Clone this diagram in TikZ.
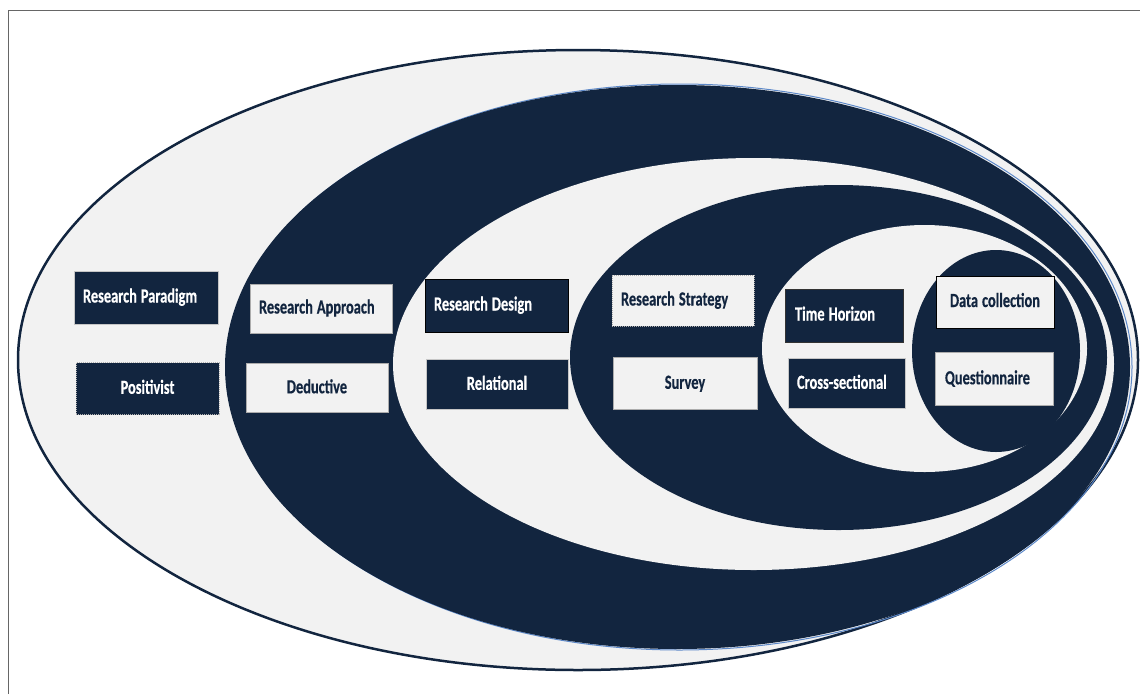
\documentclass[tikz,border=0pt]{standalone}
\usepackage{fontspec}
\newfontfamily\cardfont{Carlito}[FakeStretch=0.72, FakeBold=0.4]
\newcommand\cardtype{\cardfont\bfseries\fontsize{20}{23}\selectfont\spaceskip=4pt plus 1pt minus 1pt\relax}
\usetikzlibrary{positioning}
\definecolor{navy}{RGB}{18,37,63}
\definecolor{paper}{RGB}{242,242,242}
\definecolor{glow}{RGB}{92,136,200}
\tikzset{
  basic/.style     = {rectangle, inner xsep=9pt, inner ysep=0pt, line width=0.8pt,
                      font=\cardtype, text height=13pt, text depth=3pt, align=flush left},
  dark box/.style  = {basic, fill=navy, draw=gray!45, text=white},
  light box/.style = {basic, fill=paper, draw=gray!65, text=navy},
  dotted edge/.style = {dash pattern=on 1pt off 1pt},
  ring/.style      = {line width=2.5pt, draw=navy}
}

\begin{document}
\begin{tikzpicture}[x=1pt, y=-1pt]
	\useasboundingbox (0,0) rectangle (1140,694);
	
	% page frame, only left and top edges visible
	\draw[gray!80!black, line width=1pt] (8,694) -- (8,10) -- (1140,10);
	
	% nested layers, outermost first
	\fill[paper] (578,360) ellipse [x radius=560, y radius=310];
	\draw[ring] (578,360) ellipse [x radius=560, y radius=310];
	\draw[glow, line width=1pt] (679.5,367) ellipse [x radius=452.5, y radius=283];
	\fill[navy]  (677.5,367) ellipse [x radius=452.5, y radius=282];
	\fill[paper] (753.5,364) ellipse [x radius=360.5, y radius=206];
	\fill[navy]  (838.5,357.5) ellipse [x radius=268.5, y radius=172.5];
	\fill[paper] (924.5,348.5) ellipse [x radius=162.5, y radius=123.5];
	\fill[navy]  (996,351) ellipse [x radius=84, y radius=101];
	
	% headings of each layer
	\node[dark box, text width=126pt, minimum height=53pt] (paradigm) at (146,297.5) {Research Paradigm};
	\node[light box, text width=124pt, minimum height=49pt] (approach) at (321,308.5) {Research Approach};
	\node[dark box, draw=black, text width=125pt, minimum height=53pt] (design) at (496.5,305.5) {Research Design};
	\node[light box, dotted edge, text width=124pt, minimum height=51pt] (strategy) at (683,300.5) {Research Strategy};
	\node[dark box, draw=black!80, text width=98pt, inner xsep=10pt, minimum height=53pt] (horizon) at (844,315.5) {Time Horizon};
	\node[light box, draw=black, text width=100pt, align=flush center, minimum height=52pt] (collection) at (995,302) {Data collection};
	
	% choices, placed below their headings
	\node[dark box, dotted edge, draw=gray!60, text width=125pt, align=flush center, minimum height=52pt,
	      below=38pt of paradigm, xshift=1.5pt] (positivist) {Positivist};
	\node[light box, text width=124pt, align=flush center, minimum height=49pt,
	      below=30pt of approach, xshift=-4pt] (deductive) {Deductive};
	\node[dark box, text width=124pt, align=flush center, minimum height=50pt,
	      below=27pt of design, xshift=0.5pt] (relational) {Relational};
	\node[light box, text width=126pt, align=flush center, minimum height=52pt,
	      below=31pt of strategy, xshift=2pt] (survey) {Survey};
	\node[dark box, text width=99pt, minimum height=50pt,
	      below=16pt of horizon, xshift=2.5pt] (cross) {Cross-sectional};
	\node[light box, text width=98pt, inner xsep=10pt, minimum height=53pt,
	      below=24pt of collection, xshift=-1pt] (questionnaire) {Questionnaire};
	
\end{tikzpicture}
\end{document}
